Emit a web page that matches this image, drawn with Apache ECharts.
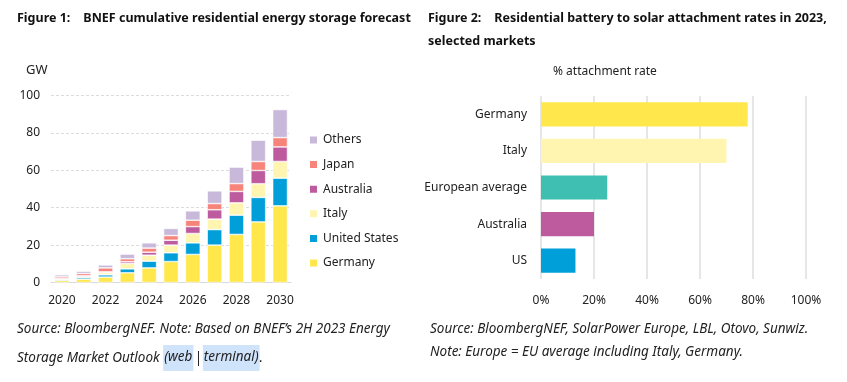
<!DOCTYPE html>
<html>
<head>
<meta charset="utf-8">
<script src="https://cdn.jsdelivr.net/npm/echarts@6/dist/echarts.min.js"></script>
<style>
html,body{margin:0;padding:0;background:#fff;}
#c{width:847px;height:382px;}
</style>
</head>
<body>
<div id="c"></div>
<script>
// ---- Figure 1 data ----
var years = ['2020','2021','2022','2023','2024','2025','2026','2027','2028','2029','2030'];
var germany      = [1.1, 1.8, 2.9, 5.2, 7.8, 11.2, 15.0, 20.0, 25.7, 32.4, 41.0];
var unitedStates = [0.5, 0.9, 1.2, 2.1, 3.6, 4.7, 6.2, 8.3, 10.3, 13.1, 14.8];
var italy        = [0.4, 0.5, 1.2, 2.9, 3.2, 4.1, 5.0, 5.6, 6.6, 7.3, 8.9];
var australia    = [0.1, 0.4, 0.4, 0.9, 1.6, 2.6, 3.7, 5.0, 6.1, 7.1, 7.8];
var japan        = [0.9, 1.2, 2.1, 1.6, 2.2, 2.5, 3.4, 3.3, 4.2, 4.8, 5.0];
var others       = [1.1, 1.2, 1.6, 2.5, 2.8, 3.8, 5.0, 6.8, 8.8, 11.4, 15.0];
var yTicks = [0, 20, 40, 60, 80, 100];

// ---- Figure 2 data ----
var markets = ['Germany', 'Italy', 'European average', 'Australia', 'US'];
var attachRate = [78, 70, 25, 20, 13];
var xTicks = [0, 20, 40, 60, 80, 100];

// ---- styles ----
var C = {
  germany: '#FFE74C', us: '#009FDA', italy: '#FFF5B1', australia: '#BE5B9F',
  japan: '#F7847A', others: '#C8B9DA', euro: '#3FBFB1'
};
var marketColors = [C.germany, C.italy, C.euro, C.australia, C.us];
var FONT = '"Noto Sans", "Open Sans", sans-serif';
var TITLE_FONT = 'bold 12.5px ' + FONT;
var NOTE_FONT = 'italic 13.5px ' + FONT;

var chart = echarts.init(document.getElementById('c'), null, {renderer: 'canvas'});

function stackSeries(name, data, color) {
  return {
    name: name, type: 'bar', stack: 'total', data: data,
    xAxisIndex: 0, yAxisIndex: 0,
    barCategoryGap: '32%',
    itemStyle: {color: color, borderColor: '#ffffff', borderWidth: 0.6},
    emphasis: {disabled: true}
  };
}

var option = {
  animation: false,
  textStyle: {fontFamily: FONT},
  grid: [
    {left: 51, right: 556, top: 95.5, bottom: 99.5},
    {left: 541, right: 41, top: 96, bottom: 103}
  ],
  legend: {
    orient: 'vertical', left: 303, top: 129,
    itemWidth: 9, itemHeight: 9, itemGap: 12.6,
    icon: 'rect',
    data: ['Others', 'Japan', 'Australia', 'Italy', 'United States', 'Germany'],
    textStyle: {fontFamily: FONT, fontSize: 12, color: '#222', padding: [0, 0, 0, 0]}
  },
  xAxis: [
    {
      gridIndex: 0, type: 'category', data: years,
      axisLine: {show: true, lineStyle: {color: '#d9d9d9', width: 1}},
      axisTick: {show: false},
      axisLabel: {
        fontFamily: FONT, fontSize: 12, color: '#222', margin: 12,
        interval: 0,
        formatter: function (v, i) { return i % 2 === 0 ? v : ''; }
      }
    },
    {
      gridIndex: 1, type: 'value', min: 0, max: 100, interval: 20,
      axisLine: {show: false}, axisTick: {show: false},
      splitLine: {show: true, lineStyle: {color: '#dedede', width: 1.5}},
      axisLabel: {
        fontFamily: FONT, fontSize: 12, color: '#222', margin: 16,
        formatter: function (v) { return xTicks.indexOf(v) >= 0 ? v + '%' : ''; }
      }
    }
  ],
  yAxis: [
    {
      gridIndex: 0, type: 'value', min: 0, max: 100, interval: 20,
      axisLine: {show: false}, axisTick: {show: false},
      splitLine: {show: true, lineStyle: {color: '#dcdcdc', width: 1, type: [3, 2]}},
      axisLabel: {
        fontFamily: FONT, fontSize: 12, color: '#222', margin: 11,
        formatter: function (v) { return yTicks.indexOf(v) >= 0 ? String(v) : ''; }
      }
    },
    {
      gridIndex: 1, type: 'category', data: markets, inverse: true,
      axisLine: {show: false}, axisTick: {show: false},
      axisLabel: {fontFamily: FONT, fontSize: 12, color: '#222', margin: 14}
    }
  ],
  series: [
    stackSeries('Germany', germany, C.germany),
    stackSeries('United States', unitedStates, C.us),
    stackSeries('Italy', italy, C.italy),
    stackSeries('Australia', australia, C.australia),
    stackSeries('Japan', japan, C.japan),
    stackSeries('Others', others, C.others),
    {
      name: 'attach', type: 'bar', xAxisIndex: 1, yAxisIndex: 1,
      barCategoryGap: '34%',
      data: attachRate.map(function (v, i) {
        return {value: v, itemStyle: {color: marketColors[i]}};
      }),
      emphasis: {disabled: true}
    }
  ],
  graphic: [
    {type: 'text', left: 17, top: 12, style: {
      text: 'Figure 1:    BNEF cumulative residential energy storage forecast',
      font: TITLE_FONT, fill: '#111'}},
    {type: 'text', left: 428, top: 12, style: {
      text: 'Figure 2:    Residential battery to solar attachment rates in 2023,',
      font: TITLE_FONT, fill: '#111'}},
    {type: 'text', left: 428, top: 35, style: {
      text: 'selected markets', font: TITLE_FONT, fill: '#111'}},
    {type: 'text', left: 26, top: 64, style: {
      text: 'GW', font: '13px ' + FONT, fill: '#222'}},
    {type: 'text', left: 553, top: 66, style: {
      text: '% attachment rate', font: '12px ' + FONT, fill: '#222'}},
    {type: 'text', left: 17, top: 322, style: {
      text: 'Source: BloombergNEF. Note: Based on BNEF\u2019s 2H 2023 Energy',
      font: NOTE_FONT, fill: '#222'}},
    {type: 'text', left: 17, top: 345, style: {
      text: '{a|Storage Market Outlook }{h|(web}{s||}{h|terminal)}{a|.}',
      font: NOTE_FONT, fill: '#222',
      rich: {
        a: {font: NOTE_FONT, fill: '#222'},
        s: {font: NOTE_FONT, fill: '#222', padding: [0, 1, 0, 1]},
        h: {font: NOTE_FONT, fill: '#222', backgroundColor: '#CFE3FB', padding: [5, 1, 7, 1]}
      }}},
    {type: 'text', left: 430, top: 322, style: {
      text: 'Source: BloombergNEF, SolarPower Europe, LBL, Otovo, Sunwiz.',
      font: NOTE_FONT, fill: '#222'}},
    {type: 'text', left: 430, top: 345, style: {
      text: 'Note: Europe = EU average including Italy, Germany.',
      font: NOTE_FONT, fill: '#222'}}
  ]
};
chart.setOption(option);
</script>
</body>
</html>
